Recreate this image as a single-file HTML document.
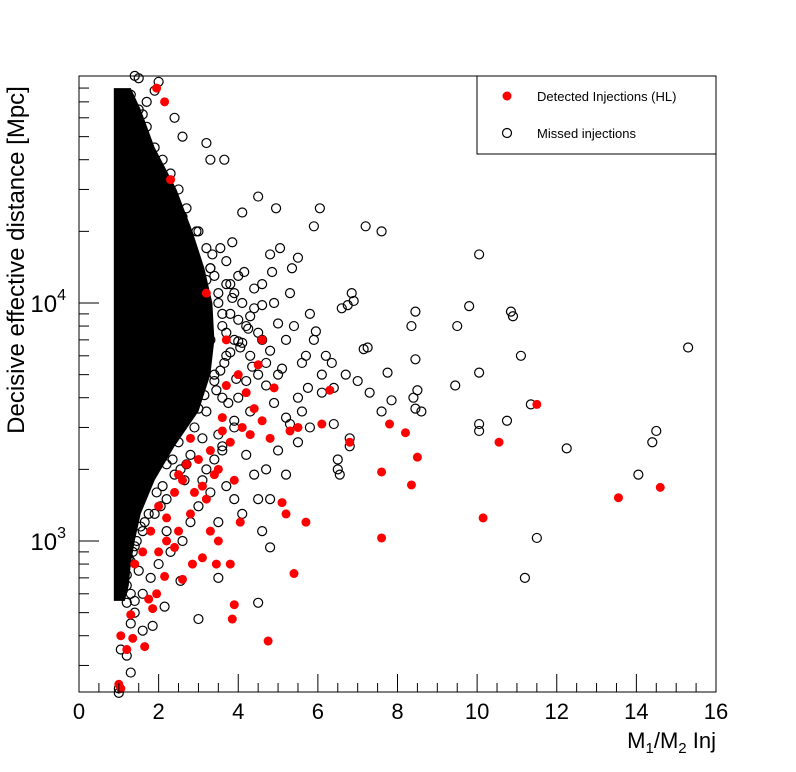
<!DOCTYPE html>
<html><head><meta charset="utf-8"><style>
html,body{margin:0;padding:0;background:#fff;}
svg{display:block;font-family:"Liberation Sans",sans-serif;}
</style></head><body>
<svg id="chart" width="796" height="772" viewBox="0 0 796 772">
<rect x="0" y="0" width="796" height="772" fill="#fff"/>
<g id="core"></g>
<g id="pts"></g>
<rect x="79" y="76" width="637" height="616" fill="none" stroke="#000" stroke-width="1"/>
<g id="axes"></g>
<text x="0" y="0" transform="translate(24,260) rotate(-90)" text-anchor="middle" font-size="24">Decisive effective distance [Mpc]</text>
<text x="716" y="748" text-anchor="end" font-size="22">M<tspan font-size="15" dy="5">1</tspan><tspan dy="-5">/M</tspan><tspan font-size="15" dy="5">2</tspan><tspan dy="-5"> Inj</tspan></text>
<g>
<rect x="477" y="76" width="239" height="78" fill="#fff" stroke="#000" stroke-width="1"/>
<circle cx="507" cy="96" r="4.5" fill="#f00"/>
<text x="537" y="101" font-size="13">Detected Injections (HL)</text>
<circle cx="507" cy="133" r="4.5" fill="none" stroke="#000" stroke-width="1.2"/>
<text x="537" y="138" font-size="13">Missed injections</text>
</g>
</svg>
<script>
const xTicks = [0,2,4,6,8,10,12,14,16];
const yDecades = [3,4];
const coreDist = [80000,65000,45000,30000,20000,14000,10000,7000,5000,3500,2500,1800,1300,1000,800,650,560];
const coreMaxX = [1.2,1.45,1.8,2.35,2.75,3.05,3.25,3.3,3.2,2.9,2.3,1.8,1.45,1.3,1.2,1.15,1.05];
const missedX = [15.3,14.5,14.4,14.05,12.25,11.35,11.1,11.2,11.5,10.85,10.9,10.75,10.05,10.05,10.05,10.05,9.8,9.5,9.45,8.45,8.45,8.35,8.4,8.5,8.6,8.45,7.85,7.75,7.6,7.6,7.2,7.25,7.15,7.3,7.0,6.85,6.9,6.75,6.6,6.8,6.8,6.5,6.5,6.4,6.55,6.05,5.9,5.95,5.8,5.6,5.5,5.3,5.2,4.95,4.5,4.1,3.85,3.8,3.7,4.8,4.6,4.5,4.8,3.9,4.1,3.0,3.5,4.5,2.15,2.55,3.2,3.65,3.3,2.4,2.6,1.5,1.4,1.0,1.0,1.3,1.2,1.05,1.6,1.85,5.35,5.5,5.05,4.85,4.8,4.6,4.9,5.3,5.4,5.2,5.9,6.2,6.35,5.75,6.1,6.4,5.6,5.8,4.9,4.3,4.0,3.9,3.6,3.4,3.2,4.2,4.4,4.7,5.2,5.0,5.5,3.7,3.3,3.1,3.0,3.5,2.8,2.6,2.3,2.0,1.8,1.6,1.4,1.3,1.2,1.5,2.2,4.0,3.7,3.5,3.3,3.2,3.0,2.7,2.5,2.3,2.1,1.9,1.7,1.5,1.3,3.9,4.2,4.3,4.6,4.4,4.1,3.6,3.4,3.6,3.2,3.0,3.1,3.3,3.1,3.0,2.8,2.6,2.5,2.2,2.0,1.8,6.7,6.1,5.7,5.0,4.7,4.5,
 3.5,3.6,3.7,3.8,3.55,3.45,3.75,3.9,4.0,4.1,3.65,3.4,3.3,3.2,3.35,3.85,4.05,3.95,4.25,4.35,3.5,3.6,3.1,2.9,2.8,3.0,3.15,2.7,2.55,2.4,2.85,2.95,2.6,2.45,2.1,2.2,1.95,2.05,1.75,1.65,1.55,1.45,1.35,1.25,1.15,1.1,1.2,1.3,1.4,1.1,1.2,1.05,1.15,1.25,1.35,1.5,1.6,1.7,1.9,2.0,2.5,2.65,2.35,2.2,1.9,1.6,1.4,1.3,1.2,1.1,3.4,3.55,3.8,3.7,3.9,4.15,4.3,4.5,4.4,4.7,4.8,5.0,5.1,4.6,4.2,4.0];
const missedD = [6500,2900,2600,1900,2450,3750,6000,700,1030,9200,8800,3200,16000,5100,3100,2900,9700,8000,4500,9200,5800,8000,4000,4300,3500,3600,3900,5100,3500,20000,21000,6500,6400,4200,4700,11000,10200,9800,9500,2700,2500,2200,2000,3100,1900,25000,21000,7600,9000,5600,4000,3100,3300,25000,28000,24000,18000,9000,6000,940,1100,1500,1500,1500,1300,470,700,550,530,680,47000,40000,40000,60000,50000,88000,90000,240,230,280,330,350,420,440,14000,15500,17000,13500,16000,12000,10000,11000,8000,7000,7000,6000,5600,4400,4200,4400,3500,3000,3800,3500,4000,3000,2500,2200,2000,2300,1900,2000,1900,2400,2600,1700,1600,1800,1400,1200,1200,1000,900,800,700,600,500,450,550,750,1100,13000,12000,10000,14000,17000,20000,25000,30000,35000,40000,45000,55000,65000,75000,7000,8000,6000,7000,9500,10000,8000,5000,4000,3500,4500,6000,7000,9000,12000,15000,18000,22000,28000,33000,38000,5000,5000,6000,5000,4500,5000,
 11000,9000,7500,6200,5200,4300,3800,3200,8500,6800,5600,4700,14000,12500,16000,10500,6500,4800,7800,5400,2800,2400,2700,3000,2300,3600,4100,2100,2000,1900,16000,20000,23000,26000,1700,1500,1600,1400,1300,1200,1150,1000,900,850,750,700,650,600,560,620,32000,36000,42000,48000,52000,58000,62000,70000,78000,85000,2600,1800,2200,2100,1300,1100,950,820,720,660,13000,17000,12000,15000,11000,13500,8800,7500,11500,5600,6300,8200,5300,9800,4700,6900];
const detX = [1.95,2.15,11.5,10.55,10.15,13.55,14.6,8.5,8.35,8.2,7.8,7.6,7.6,6.8,6.3,6.1,5.7,5.4,5.2,5.1,4.75,4.05,3.85,3.9,3.8,3.45,3.5,3.3,3.1,2.85,2.6,2.4,2.15,1.95,1.85,1.75,1.65,1.3,1.2,1.05,1.0,1.05,1.35,2.0,2.2,2.5,2.8,3.2,2.4,2.0,2.6,3.0,3.5,3.8,4.1,3.6,4.4,4.3,4.6,4.8,4.2,4.9,4.5,4.0,3.7,4.6,3.2,2.3,2.8,5.3,5.5,3.9,2.2,1.8,1.6,1.4,3.3,3.6,3.4,3.7,2.7,2.5,2.9,3.1];
const detD = [80000,70000,3750,2600,1250,1520,1680,2250,1720,2850,3100,1950,1030,2600,4300,3100,1200,730,1300,1450,380,1200,470,540,800,800,1000,1100,850,800,690,940,710,600,520,570,360,490,350,400,250,240,390,900,1000,1100,1300,1500,1600,1400,1800,2200,2000,2600,3000,3300,3600,2800,3200,2700,4200,4400,5500,5000,7000,7000,11000,33000,2700,2900,3000,1800,1250,1100,900,800,2400,2900,1900,4500,2100,1900,1600,1700];

const X0=79,X1=716,Y3=541,DEC=238;
const sx = v => X0 + (X1-X0)*v/16;
const sy = d => Y3 - (Math.log10(d)-3)*DEC;
const NS='http://www.w3.org/2000/svg';
function mk(tag, attrs, parent){const e=document.createElementNS(NS,tag);for(const k in attrs)e.setAttribute(k,attrs[k]);parent.appendChild(e);return e;}

const core=document.getElementById('core');
let dpath='M'+(sx(1.0)-5)+','+sy(coreDist[0]);
coreDist.forEach((d,i)=>{dpath+=' L'+(sx(coreMaxX[i])+4)+','+sy(d);});
dpath+=' L'+(sx(1.0)-5)+','+sy(coreDist[coreDist.length-1])+' Z';
const cp=mk('path',{d:dpath,fill:'#000'},core);



const pts=document.getElementById('pts');
missedX.forEach((x,i)=>{
  const c=mk('circle',{cx:sx(x),cy:sy(missedD[i]),r:4.5,fill:'none',stroke:'#000','stroke-width':1.2},pts);
  
  
});
detX.forEach((x,i)=>{
  const c=mk('circle',{cx:sx(x),cy:sy(detD[i]),r:4.5,fill:'#f00'},pts);
  
  
});

const ax=document.getElementById('axes');
for(let v=0; v<=16.001; v+=0.5){
  const major=Math.abs(v-Math.round(v/2)*2)<1e-6;
  const t=mk('line',{x1:sx(v),x2:sx(v),y1:692,y2:692-(major?18:9),stroke:'#000','stroke-width':1},ax);
  
  
}
xTicks.forEach(v=>{
  const t=mk('text',{x:sx(v),y:719,'text-anchor':'middle','font-size':22},ax);
  t.textContent=String(v);
  
  
});
for(let e=2;e<=4;e++){
  for(let m=1;m<=9;m++){
    const d=m*Math.pow(10,e);
    const y=sy(d);
    if(y<76||y>692) continue;
    const t=mk('line',{x1:X0,x2:X0+(m===1?20:10),y1:y,y2:y,stroke:'#000','stroke-width':1},ax);
    
    
  }
}
yDecades.forEach(e=>{
  const t=mk('text',{x:66,y:sy(Math.pow(10,e))+9,'text-anchor':'end','font-size':24},ax);
  t.innerHTML='10<tspan font-size="16" dy="-12">'+e+'</tspan>';
  
  
});
</script>
</body></html>
